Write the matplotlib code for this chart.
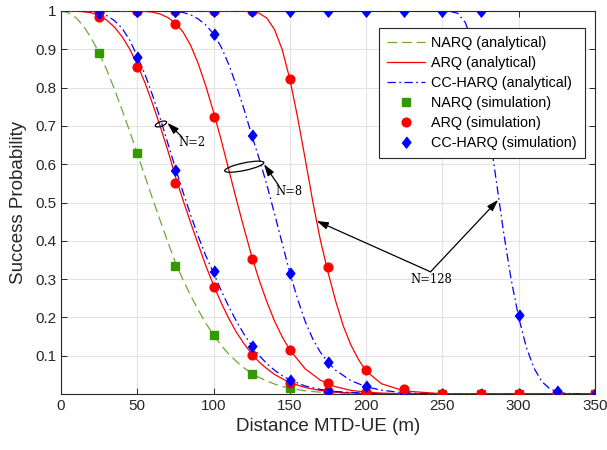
import numpy as np
import matplotlib
matplotlib.use('Agg')
import matplotlib.pyplot as plt
from matplotlib.patches import Ellipse
from matplotlib.transforms import ScaledTranslation

# ---- analytical curves ----
d_fine = [0, 5, 10, 15, 20, 25, 30, 35, 40, 45, 50, 55, 60, 65, 70, 75, 80, 85, 90, 95,
          100, 105, 110, 115, 120, 125, 130, 135, 140, 145, 150, 160, 170, 180, 200, 225,
          250, 300, 350]
narq_ana = [1.0, 0.995, 0.982, 0.959, 0.928, 0.890, 0.846, 0.796, 0.742, 0.686, 0.628,
            0.569, 0.510, 0.453, 0.397, 0.343, 0.298, 0.257, 0.219, 0.184, 0.154, 0.127,
            0.104, 0.085, 0.068, 0.054, 0.043, 0.034, 0.026, 0.020, 0.015, 0.0085, 0.0046,
            0.0024, 0.0006, 0.0001, 0, 0, 0]
arq2_ana = [1.0, 1.0, 1.0, 0.998, 0.995, 0.988, 0.976, 0.958, 0.933, 0.901, 0.860, 0.813,
            0.758, 0.699, 0.636, 0.568, 0.506, 0.447, 0.390, 0.334, 0.284, 0.238, 0.197,
            0.161, 0.131, 0.105, 0.083, 0.066, 0.051, 0.040, 0.030, 0.017, 0.0092, 0.0048,
            0.0012, 0.0002, 0, 0, 0]
cc2_ana = [1.0, 1.0, 1.0, 0.999, 0.998, 0.995, 0.988, 0.975, 0.955, 0.924, 0.882, 0.835,
           0.780, 0.720, 0.655, 0.590, 0.527, 0.467, 0.411, 0.360, 0.316, 0.270, 0.228,
           0.190, 0.156, 0.126, 0.100, 0.079, 0.062, 0.048, 0.037, 0.021, 0.012, 0.0065,
           0.0018, 0.0003, 0, 0, 0]

d_arq8 = [0, 25, 40, 50, 55, 60, 65, 70, 75, 80, 85, 90, 95, 100, 105, 110, 115, 120, 125,
          130, 135, 140, 145, 150, 160, 170, 180, 190, 200, 210, 225, 250, 300, 350]
arq8_ana = [1.0, 1.0, 1.0, 1.0, 0.999, 0.997, 0.992, 0.983, 0.968, 0.945, 0.910, 0.862,
            0.803, 0.736, 0.663, 0.585, 0.507, 0.432, 0.360, 0.296, 0.240, 0.190, 0.149,
            0.115, 0.066, 0.036, 0.019, 0.0095, 0.005, 0.0025, 0.0008, 0.0001, 0, 0]

d_cc8 = [0, 50, 70, 75, 80, 85, 90, 95, 100, 105, 110, 115, 120, 125, 130, 135, 140, 145,
         150, 155, 160, 165, 170, 175, 180, 190, 200, 210, 225, 250, 275, 300, 350]
cc8_ana = [1.0, 1.0, 1.0, 0.999, 0.996, 0.990, 0.979, 0.963, 0.940, 0.906, 0.860, 0.805,
           0.743, 0.676, 0.613, 0.545, 0.470, 0.393, 0.317, 0.249, 0.190, 0.144, 0.109,
           0.083, 0.062, 0.035, 0.019, 0.010, 0.003, 0.0004, 0, 0, 0]

d_arq128 = [0, 100, 120, 125, 130, 135, 140, 145, 150, 155, 160, 165, 170, 175, 180, 185,
            190, 195, 200, 210, 225, 250, 275, 300, 350]
arq128_ana = [1.0, 1.0, 1.0, 0.999, 0.994, 0.981, 0.951, 0.899, 0.822, 0.724, 0.615, 0.503,
              0.402, 0.318, 0.243, 0.178, 0.128, 0.090, 0.060, 0.027, 0.0078, 0.0008, 0, 0, 0]

d_cc128 = [0, 200, 250, 255, 260, 265, 270, 275, 280, 285, 290, 295, 300, 305, 310, 315,
           320, 325, 330, 340, 350]
cc128_ana = [1.0, 1.0, 1.0, 0.999, 0.994, 0.970, 0.915, 0.825, 0.705, 0.565, 0.425, 0.300,
             0.200, 0.122, 0.068, 0.033, 0.015, 0.006, 0.002, 0, 0]

# ---- simulation points ----
d_sim = [25, 50, 75, 100, 125, 150, 175, 200, 225, 250, 275, 300, 325, 350]
narq_sim = [0.89, 0.628, 0.335, 0.154, 0.052, 0.015, 0.003, 0, 0, 0, 0, 0, 0, 0]
arq2_sim = [0.985, 0.855, 0.55, 0.279, 0.102, 0.03, 0.008, 0.002, 0, 0, 0, 0, 0, 0]
cc2_sim = [0.995, 0.879, 0.585, 0.322, 0.125, 0.037, 0.008, 0.003, 0, 0, 0, 0, 0, 0]
arq8_sim = [1.0, 1.0, 0.966, 0.724, 0.352, 0.115, 0.028, 0.005, 0, 0, 0, 0, 0, 0]
cc8_sim = [1.0, 1.0, 1.0, 0.94, 0.676, 0.315, 0.083, 0.02, 0.003, 0, 0, 0, 0, 0]
arq128_sim = [1.0, 1.0, 1.0, 1.0, 1.0, 0.822, 0.332, 0.063, 0.013, 0, 0, 0, 0, 0]
cc128_sim = [1.0, 1.0, 1.0, 1.0, 1.0, 1.0, 1.0, 1.0, 1.0, 1.0, 1.0, 0.207, 0.007, 0]

plt.rcParams['font.family'] = ['Liberation Sans', 'DejaVu Sans']
plt.rcParams['lines.scale_dashes'] = False

fig = plt.figure(figsize=(6.07, 4.5), dpi=100)
ax = fig.add_axes([0.1005, 0.1244, 0.8797, 0.8512])

green_line = '#6aaa35'
green_mk = '#339900'
diamond = [(0, 1), (0.78, 0), (0, -1), (-0.78, 0)]
lw = 0.9
dash = (0, (7, 3.5))
dashdot = (0, (6, 2.5, 1.2, 2.5))
ms_d = 8.0

l_narq, = ax.plot(d_fine, narq_ana, color=green_line, lw=lw, linestyle=dash, zorder=3)
l_arq, = ax.plot(d_fine, arq2_ana, color='red', lw=lw, zorder=3)
l_cc, = ax.plot(d_fine, cc2_ana, color='blue', lw=lw, linestyle=dashdot, zorder=3)
ax.plot(d_arq8, arq8_ana, color='red', lw=lw, zorder=3)
ax.plot(d_cc8, cc8_ana, color='blue', lw=lw, linestyle=dashdot, zorder=3)
ax.plot(d_arq128, arq128_ana, color='red', lw=lw, zorder=3)
ax.plot(d_cc128, cc128_ana, color='blue', lw=lw, linestyle=dashdot, zorder=3)

m_narq, = ax.plot(d_sim, narq_sim, 's', color=green_mk, ms=5.3, mec=green_mk, zorder=4)
m_arq, = ax.plot(d_sim, arq2_sim, 'o', color='red', ms=6.3, zorder=4)
m_cc, = ax.plot(d_sim, cc2_sim, marker=diamond, ls='none', color='blue', ms=ms_d, zorder=4)
ax.plot(d_sim, arq8_sim, 'o', color='red', ms=6.3, zorder=4)
ax.plot(d_sim, cc8_sim, marker=diamond, ls='none', color='blue', ms=ms_d, zorder=4)
ax.plot(d_sim, arq128_sim, 'o', color='red', ms=6.3, zorder=4)
ax.plot(d_sim, cc128_sim, marker=diamond, ls='none', color='blue', ms=ms_d, zorder=4)

ax.set_xlim(0, 350)
ax.set_ylim(0, 1)
ax.set_xticks(np.arange(0, 351, 50))
ax.set_yticks(np.arange(0.1, 1.01, 0.1))
ax.set_yticklabels(['0.1', '0.2', '0.3', '0.4', '0.5', '0.6', '0.7', '0.8', '0.9', '1'])
ax.grid(True, color='#e3e3e3', lw=0.8)
ax.set_axisbelow(True)
ax.tick_params(direction='in', top=True, right=True, labelsize=11, colors='#262626',
               length=4, width=0.7)
for s in ax.spines.values():
    s.set_color('#262626')
    s.set_linewidth(0.8)
ax.set_xlabel('Distance MTD-UE (m)', fontsize=13.5, color='#262626')
ax.set_ylabel('Success Probability', fontsize=13.5, color='#262626', labelpad=6)

leg = ax.legend([l_narq, l_arq, l_cc, m_narq, m_arq, m_cc],
                ['NARQ (analytical)', 'ARQ (analytical)', 'CC-HARQ (analytical)',
                 'NARQ (simulation)', 'ARQ (simulation)', 'CC-HARQ (simulation)'],
                loc='upper right', bbox_to_anchor=(0.981, 0.956), fontsize=10.4,
                fancybox=False, framealpha=1, edgecolor='#262626', handlelength=2.6,
                borderpad=0.55, labelspacing=0.42, handletextpad=0.45, borderaxespad=0)
leg.get_frame().set_linewidth(0.8)
leg.set_zorder(6)

# ---- annotations ----
def ring(x, y, w_px, h_px, ang):
    tr = fig.dpi_scale_trans + ScaledTranslation(x, y, ax.transData)
    e = Ellipse((0, 0), w_px / 100, h_px / 100, angle=ang, fill=False, ec='black',
                lw=0.9, transform=tr, zorder=5)
    ax.add_patch(e)

ring(65.5, 0.705, 12, 4.5, 20)
ring(120.1, 0.5935, 40, 7.5, 12)

arrow = dict(arrowstyle='-|>,head_length=0.7,head_width=0.22', color='black', lw=0.9,
             shrinkA=0, shrinkB=0, mutation_scale=10)
ax.annotate('', xy=(69.7, 0.708), xytext=(79.1, 0.672), arrowprops=arrow, zorder=5)
ax.annotate('', xy=(133, 0.600), xytext=(142.4, 0.546), arrowprops=arrow, zorder=5)
ax.annotate('', xy=(167.5, 0.452), xytext=(242.2, 0.319), arrowprops=arrow, zorder=5)
ax.annotate('', xy=(286.6, 0.507), xytext=(242.2, 0.319), arrowprops=arrow, zorder=5)

tfont = dict(family='DejaVu Serif', fontsize=8.3, color='black', ha='center', va='center',
             zorder=5)
ax.text(85.6, 0.656, 'N=2', **tfont)
ax.text(149.6, 0.530, 'N=8', **tfont)
ax.text(242.9, 0.298, 'N=128', **tfont)

fig.savefig('out.png', dpi=100)
